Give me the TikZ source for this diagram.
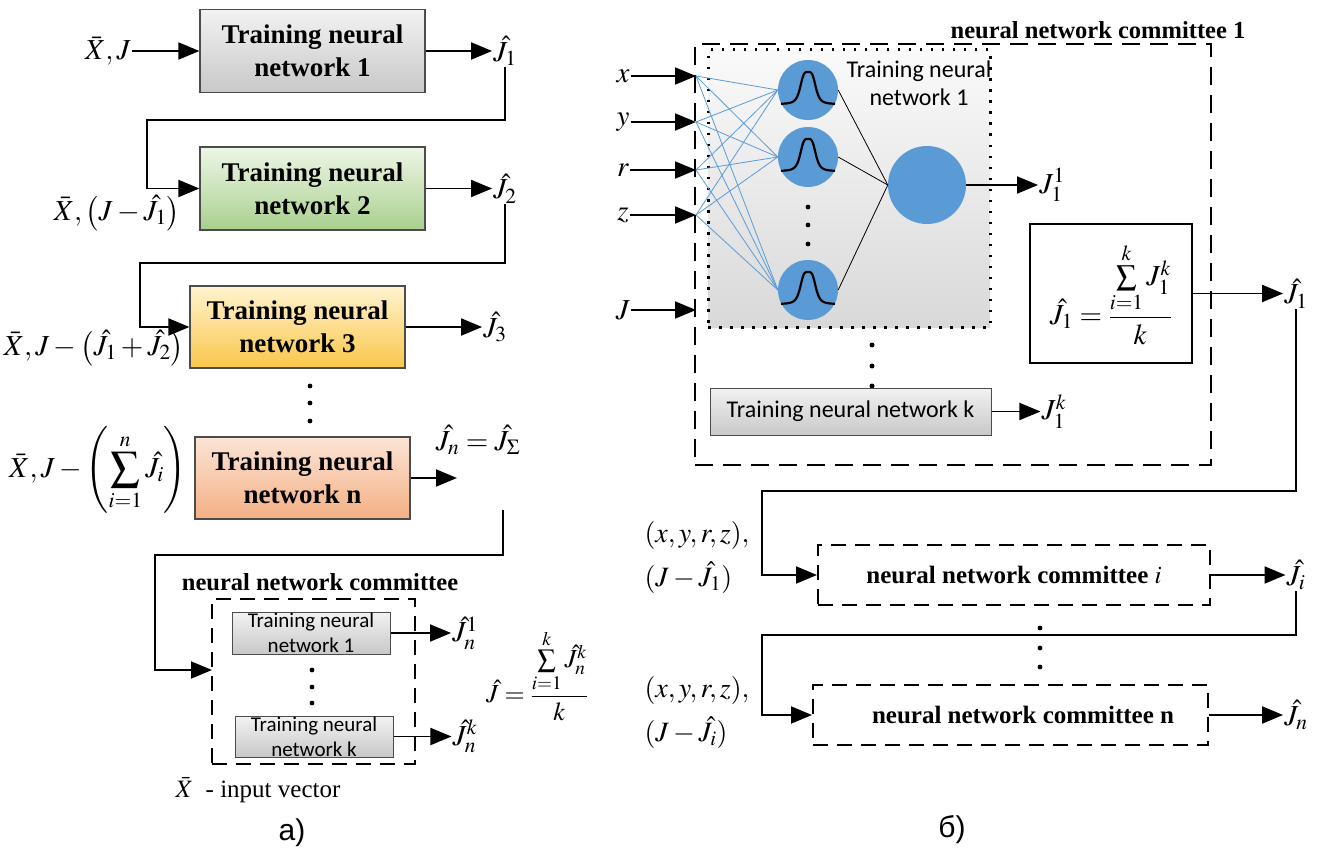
\documentclass[tikz,border=0pt]{standalone}
\usepackage{mathptmx}
\usepackage{fontspec}
\setmainfont{Liberation Serif}
\newfontfamily\calfont{Carlito}
\newfontfamily\arialfont{Liberation Sans}
\usetikzlibrary{arrows.meta}
\definecolor{nnblue}{HTML}{5B9BD5}
\definecolor{gtop}{HTML}{F2F2F2}
\definecolor{gbot}{HTML}{C8C8C8}
\definecolor{grtop}{HTML}{EEF6E7}
\definecolor{grbot}{HTML}{A9D08E}
\definecolor{ytop}{HTML}{FFF3CF}
\definecolor{ybot}{HTML}{F9C74A}
\definecolor{stop}{HTML}{FBE4D6}
\definecolor{sbot}{HTML}{F4B084}

\begin{document}
\begin{tikzpicture}[x=1pt,y=-1pt,
  every node/.style={font=\fontsize{29}{33}\selectfont,inner sep=1pt},
  trbox/.style={draw=black!70,line width=1.2pt,minimum width=225pt,minimum height=83pt,
    align=center,inner sep=0pt,font=\fontsize{27}{33}\selectfont\bfseries},
  smbox/.style={draw=black!70,line width=1pt,top color=gtop,bottom color=gbot,align=center,
    inner sep=0pt,font=\calfont\fontsize{21}{25}\selectfont},
  dbox/.style={draw,line width=2pt,dash pattern=on 15pt off 9pt,inner sep=0pt},
  cttl/.style={font=\fontsize{24.5}{27}\selectfont\bfseries},
  flow/.style={line width=1.9pt,-{Triangle[length=21pt,width=17pt]}},
  syn/.style={nnblue,line width=0.8pt},
  neuron/.style={circle,fill=nnblue,inner sep=0pt,minimum size=60pt}]
  \useasboundingbox (0,0) rectangle (1325,856);

  % a)
  \node[trbox,top color=gtop,bottom color=gbot] (b1) at (312.5,51) {Training neural\\network 1};
  \node[trbox,top color=grtop,bottom color=grbot] (b2) at (312.5,188.5) {Training neural\\network 2};
  \node[trbox,minimum width=215pt,minimum height=82pt,top color=ytop,bottom color=ybot] (b3) at (297.5,327) {Training neural\\network 3};
  \node[trbox,minimum width=215pt,minimum height=82pt,top color=stop,bottom color=sbot] (bn) at (302.5,478) {Training neural\\network n};

  \node (x1) at (108,51) {$\bar X, J$};
  \node (x2) at (117,213) {$\bar X,\left(J-\hat J_1\right)$};
  \node (x3) at (94,348) {$\bar X,J-\left(\hat J_1+\hat J_2\right)$};
  \node (xn) at (98,470) {$\bar X,J-\left(\displaystyle\sum_{i=1}^{n}\hat J_i\right)$};

  \node (y1) at (505,51) {$\hat J_1$};
  \node (y2) at (505,188.5) {$\hat J_2$};
  \node (y3) at (495,327) {$\hat J_3$};
  \node (yn) at (478,440) {$\hat J_n=\hat J_\Sigma$};
  \coordinate (en) at (457,478);
  \coordinate (fn) at (503,510);

  \draw[flow] (x1) -- (b1);
  \draw[flow] (b1) -- (y1);
  \draw[flow] (b2) -- (y2);
  \draw[flow] (b3) -- (y3);
  \draw[flow] (bn) -- (en);

  \coordinate (k1) at (147,120);
  \coordinate (k2) at (140,263);
  \coordinate (k3) at (155,555);
  \coordinate (cin) at (212,670);
  \draw[flow] (y1.south) |- (k1) |- (b2);
  \draw[flow] (y2.south) |- (k2) |- (b3);
  \draw[flow] (fn) |- (k3) |- (cin);

  \foreach \y in {386,403,421} \fill (310,\y) circle (2.4pt);

  % committee
  \node[cttl] (cmt) at (320,582) {neural network committee};
  \node[dbox,minimum width=203pt,minimum height=165pt] (cm) at (313.5,681.5) {};
  \node[smbox,minimum width=158pt,minimum height=42pt] (s1) at (311,633) {Training neural\\network 1};
  \node[smbox,minimum width=158pt,minimum height=41pt] (sk) at (314,736.5) {Training neural\\network k};
  \node (z1) at (465,633) {$\hat J_n^1$};
  \node (zk) at (465,736.5) {$\hat J_n^k$};
  \draw[flow] (s1) -- (z1);
  \draw[flow] (sk) -- (zk);
  \foreach \y in {670,687,703} \fill (312,\y) circle (2.4pt);
  \node[font=\fontsize{26}{30}\selectfont] (avg) at (537,675) {$\displaystyle\hat J=\frac{\sum\limits_{i=1}^{k}\hat J_n^k}{k}$};

  \node[font=\fontsize{25}{29}\selectfont] (leg) at (258,790) {$\bar X$\ \ - input vector};
  \node[font=\arialfont\fontsize{30}{34}\selectfont] (la) at (292,833) {а)};

  % b)
  \node[dbox,line width=2.2pt,dash pattern=on 18pt off 10pt,minimum width=516pt,minimum height=421pt] (c1) at (953,254.5) {};
  \node[cttl] (c1t) at (1098,30) {neural network committee 1};
  \node[draw,line width=3pt,dash pattern=on 2.5pt off 8.5pt,top color=gray!4,bottom color=gray!30,
    minimum width=282pt,minimum height=277pt,inner sep=0pt] (tn) at (849,188.5) {};
  \node[font=\calfont\fontsize{24}{28}\selectfont,align=center] (tnt) at (919,83) {Training neural\\network 1};

  \foreach \h/\y in {1/90,2/157,3/290} {
    \node[neuron] (h\h) at (808,\y) {};
    \draw[line width=2.2pt,shift={(h\h.center)}] plot[domain=-27:27,samples=60,smooth] (\x,{14-32/(1+(\x*\x/64)^2)});
  }
  \foreach \y in {207,225,244} \fill (808,\y) circle (2.4pt);
  \node[neuron,minimum size=78pt] (o) at (927,185) {};

  \foreach \i/\y/\t in {1/76/x,2/122/y,3/170/r,4/215/z,5/310/J} {
    \node (v\i) at (623,\y) {$\t$};
    \coordinate (p\i) at (696,\y);
    \draw[flow] (v\i) -- (p\i);
  }
  \foreach \i in {1,...,4} {
    \foreach \h in {1,2,3} \draw[syn] (p\i) -- (h\h.west);
  }
  \foreach \h in {1,2,3} \draw[line width=0.8pt] (h\h.east) -- (o.west);

  \node (j11) at (1052,185) {$J_1^1$};
  \draw[flow] (o) -- (j11);

  \foreach \y in {345,366,386} \fill (872,\y) circle (2.5pt);
  \node[smbox,font=\calfont\fontsize{24}{28}\selectfont,minimum width=281pt,minimum height=47pt] (nk) at (850.5,411.5) {Training neural network k};
  \node (j1k) at (1054,411.5) {$J_1^k$};
  \draw[flow] (nk) -- (j1k);

  \node[draw,line width=1.2pt,minimum width=162pt,minimum height=139pt,inner sep=0pt] (av) at (1111,293.5)
    {$\displaystyle\hat J_1=\frac{\sum\limits_{i=1}^{k}J_1^k}{k}$};
  \node (q1) at (1296,293.5) {$\hat J_1$};
  \draw[flow] (av) -- (q1);

  \node[dbox,minimum width=392pt,minimum height=60pt] (ci) at (1014,575) {\fontsize{25}{28}\selectfont\bfseries neural network committee $i$};
  \node[dbox,minimum width=395pt,minimum height=60pt] (cn) at (1010.5,715) {\fontsize{25}{28}\selectfont\bfseries\quad neural network committee n};
  \node (qi) at (1296,575) {$\hat J_i$};
  \node (qn) at (1296,715) {$\hat J_n$};
  \draw[flow] (ci) -- (qi);
  \draw[flow] (cn) -- (qn);

  \coordinate (k4) at (762,491);
  \coordinate (k5) at (762,635);
  \draw[flow] (q1.south) |- (k4) |- (ci);
  \draw[flow] (qi.south) |- (k5) |- (cn);
  \foreach \y in {628,648,667} \fill (1040,\y) circle (2.4pt);

  \node[align=left,font=\fontsize{28}{44}\selectfont] (w1) at (697,557) {$(x,y,r,z),$\\$(J-\hat J_1)$};
  \node[align=left,font=\fontsize{28}{44}\selectfont] (w2) at (697,712) {$(x,y,r,z),$\\$(J-\hat J_i)$};

  \node[font=\arialfont\fontsize{30}{34}\selectfont] (lb) at (952,830) {б)};
\end{tikzpicture}
\end{document}
